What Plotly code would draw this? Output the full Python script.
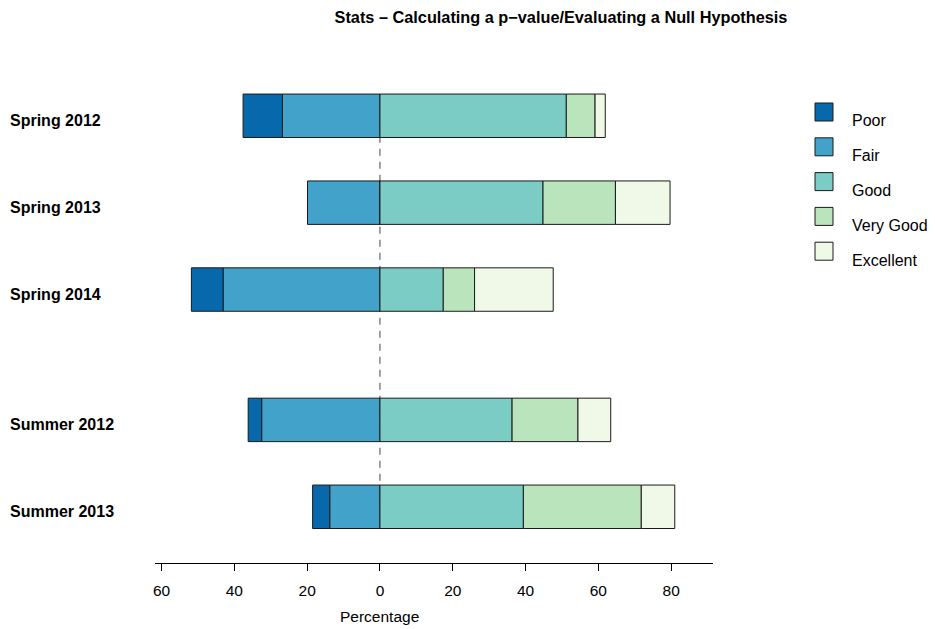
import plotly.graph_objects as go

terms = ["Spring 2012", "Spring 2013", "Spring 2014", "Summer 2012", "Summer 2013"]
positions = [4.5, 3.5, 2.5, 1.0, 0.0]

poor = [10.8, 0.0, 8.7, 3.7, 4.7]
fair = [26.8, 19.9, 43.1, 32.5, 13.8]
good = [51.2, 44.8, 17.4, 36.3, 39.4]
very_good = [7.9, 19.9, 8.6, 18.1, 32.4]
excellent = [2.8, 15.0, 21.6, 9.0, 9.2]

tick_vals = [-60, -40, -20, 0, 20, 40, 60, 80]
tick_text = ["60", "40", "20", "0", "20", "40", "60", "80"]

levels = ["Poor", "Fair", "Good", "Very Good", "Excellent"]
colors = {
    "Poor": "#0868AC",
    "Fair": "#43A2CA",
    "Good": "#7BCCC4",
    "Very Good": "#BAE4BC",
    "Excellent": "#F0F9E8",
}

FONT = "Liberation Sans, Arial, Helvetica, sans-serif"

# figure geometry (page is offset by 8px body margin)
W, H = 935, 629
ML, MR, MT, MB = 147, 230, 32, 74
PW = W - ML - MR
PH = H - MT - MB


def px(fx):
    return (fx - ML) / PW


def py(fy):
    return (H - MB - fy) / PH


fig = go.Figure()

series = [
    ("Fair", [-v for v in fair]),
    ("Poor", [-v for v in poor]),
    ("Good", good),
    ("Very Good", very_good),
    ("Excellent", excellent),
]
for name, vals in series:
    fig.add_trace(go.Bar(
        y=positions, x=vals, orientation="h", name=name,
        marker=dict(color=colors[name], line=dict(color="#1a1a1a", width=1)),
        width=0.5, showlegend=False,
        hoverinfo="x+name",
    ))

# dashed zero line
fig.add_shape(type="line", xref="x", yref="y", x0=0, x1=0,
              y0=positions[-1], y1=positions[0],
              line=dict(color="#444444", width=1, dash="7px,6px"), layer="below")

for t, p in zip(terms, positions):
    fig.add_annotation(text="<b>%s</b>" % t, xref="paper", yref="y",
                       x=px(0), y=p, xanchor="left", yanchor="middle", yshift=-5,
                       showarrow=False, font=dict(size=16, color="black", family=FONT))

# custom legend
for i, lev in enumerate(levels):
    top = 95 + 34.8 * i
    fig.add_shape(type="rect", xref="paper", yref="paper",
                  x0=px(807), x1=px(825), y0=py(top), y1=py(top + 18),
                  fillcolor=colors[lev], line=dict(color="#1a1a1a", width=1))
    fig.add_annotation(text=lev, xref="paper", yref="paper",
                       x=px(842), y=py(top + 18), xanchor="left", yanchor="middle",
                       showarrow=False, font=dict(size=16, color="black", family=FONT))

# x-axis title centred on zero
fig.add_annotation(text="Percentage", xref="x", yref="paper", x=0, y=py(608),
                   xanchor="center", yanchor="middle", showarrow=False,
                   font=dict(size=15.5, color="black", family=FONT))

fig.update_layout(
    width=W, height=H,
    margin=dict(l=ML, r=MR, t=MT, b=MB),
    paper_bgcolor="white", plot_bgcolor="white",
    barmode="relative",
    font=dict(family=FONT, size=15, color="black"),
    title=dict(text="<b>Stats \u2013 Calculating a p\u2212value/Evaluating a Null Hypothesis</b>",
               x=553 / W, xanchor="center", xref="container",
               y=1 - 9 / H, yanchor="middle", yref="container",
               font=dict(size=16.3, family=FONT, color="black")),
    xaxis=dict(range=[-61.8, 91.5], tickvals=tick_vals, ticktext=tick_text,
               showgrid=False, zeroline=False, showline=True, linecolor="black",
               linewidth=1, ticks="outside", ticklen=7, tickcolor="black",
               ticklabelstandoff=6, tickfont=dict(size=15.5)),
    yaxis=dict(range=[-0.647, 5.372], showgrid=False, zeroline=False,
               showline=False, showticklabels=False, ticks=""),
    showlegend=False,
)

fig.write_html("out.html")
